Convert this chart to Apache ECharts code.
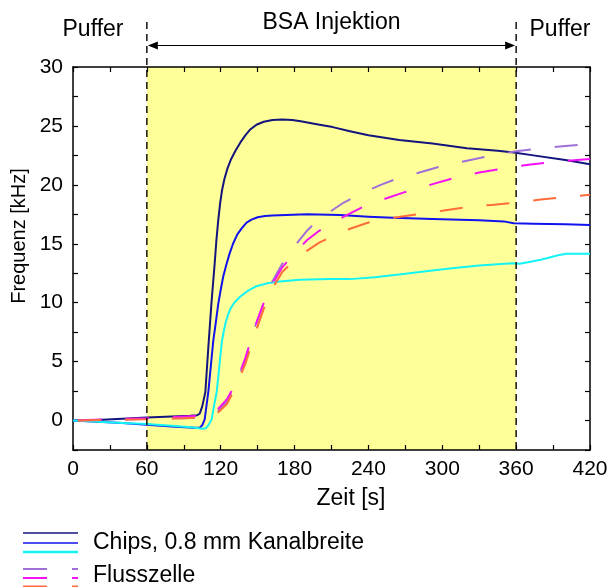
<!DOCTYPE html>
<html>
<head>
<meta charset="utf-8">
<script src="https://cdn.jsdelivr.net/npm/echarts@6/dist/echarts.min.js"></script>
<style>
  html, body { margin: 0; padding: 0; background: #fff; }
  #chart { width: 613px; height: 587px; }
</style>
</head>
<body>
<div id="chart"></div>
<script>
// Labelled ticks on the time axis (s) and the frequency axis (kHz)
const timeTicks = [0, 60, 120, 180, 240, 300, 360, 420];
const freqTicks = [0, 5, 10, 15, 20, 25, 30];

// Injection window (s)
const injectionStart = 60;
const injectionEnd = 360;

// Chips, 0.8 mm channel width — [time s, frequency kHz]
const chipNavy = [[0,0],[20,0.05],[40,0.15],[60,0.25],[80,0.35],[95,0.4],[101,0.45],[103,0.6],[105,1.2],[107.5,2.4],[110,6.3],[112.5,10],[115,13.2],[116.5,15.3],[118,17.0],[119.5,18.4],[121,19.5],[123,20.5],[125.5,21.4],[128.5,22.2],[132,22.9],[136,23.6],[140,24.2],[144,24.7],[149,25.1],[155,25.35],[162,25.5],[170,25.55],[178,25.5],[185,25.4],[198,25.15],[211,24.9],[225,24.55],[240,24.2],[265,23.8],[292,23.5],[320,23.1],[345,22.9],[358,22.75],[374,22.5],[400,22.1],[420,21.75]];
const chipBlue = [[0,0],[20,-0.1],[40,-0.2],[60,-0.35],[80,-0.5],[98,-0.62],[103,-0.6],[105,-0.4],[107,0.1],[110,2.5],[112.5,5.2],[114,6.8],[116,8.3],[118,9.9],[120,11.1],[122,12.2],[124.5,13.2],[127,14.1],[130,15.0],[133.5,15.8],[137,16.3],[141,16.8],[145,17.05],[150,17.25],[156,17.35],[162,17.4],[190,17.5],[217,17.45],[240,17.3],[260,17.2],[292,17.1],[330,17.0],[350,16.9],[358,16.75],[374,16.7],[400,16.65],[420,16.6]];
const chipCyan = [[0,0],[20,-0.1],[40,-0.2],[60,-0.3],[80,-0.45],[98,-0.6],[105,-0.7],[108,-0.65],[110,-0.4],[112.6,0.1],[114.5,1.2],[116.7,2.4],[118.5,4.2],[120.8,6.6],[122.5,7.6],[124,8.3],[126,9.0],[128,9.5],[131,10],[135.7,10.5],[142,11],[149,11.4],[158,11.65],[168,11.8],[184,11.95],[209,12.0],[225,12.0],[245,12.15],[265,12.4],[285,12.65],[306,12.9],[330,13.15],[357,13.35],[363,13.3],[380,13.65],[395,14.05],[401,14.15],[420,14.15]];

// Flow cell — [time s, frequency kHz]
const cellPurple = [[0,0],[30,0.05],[60,0.15],[90,0.2],[110,0.3],[118,0.8],[125,1.6],[132,3],[140,5.2],[148,8],[155,10],[162,11.8],[170,13.3],[180,14.8],[190,16.1],[200,17.1],[210,17.8],[220,18.5],[235,19.3],[250,20.0],[265,20.6],[280,21.0],[300,21.6],[320,22.05],[340,22.5],[360,22.85],[380,23.1],[400,23.3],[420,23.45]];
const cellMagenta = [[0,0],[30,0.1],[60,0.2],[90,0.35],[110,0.4],[118,1.0],[125,1.8],[132,3.1],[140,5.3],[148,8],[155,10],[162,11.6],[170,13],[180,14.2],[190,15.3],[200,16.1],[210,16.7],[220,17.3],[235,18.1],[250,18.7],[270,19.4],[290,20.0],[310,20.6],[330,21.05],[350,21.4],[370,21.7],[390,21.95],[420,22.2]];
const cellOrange = [[0,0],[30,0.05],[60,0.1],[90,0.2],[110,0.3],[118,0.7],[125,1.4],[132,2.8],[140,4.8],[148,7.4],[155,9.5],[162,11.2],[170,12.6],[180,13.6],[190,14.4],[200,15.1],[210,15.6],[220,16.1],[240,16.8],[260,17.2],[280,17.5],[300,17.8],[320,18.1],[340,18.3],[360,18.5],[380,18.75],[400,18.95],[420,19.15]];

const FONT = '"Liberation Sans", Arial, sans-serif';
const COLORS = {
  navy: '#14147e', blue: '#1212ee', cyan: '#14f4f4',
  purple: '#a070d8', magenta: '#f412f4', orange: '#ff6c3c',
  zone: '#ffff99'
};
const DASH = [23, 24];

const chart = echarts.init(document.getElementById('chart'), null, { renderer: 'canvas' });

function frameAxis(extra) {
  return Object.assign({
    type: 'value',
    z: 3,
    axisLine: { onZero: false, lineStyle: { color: '#000', width: 1.5 } },
    axisTick: { inside: true, length: 5, lineStyle: { color: '#000', width: 1.2 } },
    splitLine: { show: false }
  }, extra);
}

const tickLabel = { fontSize: 21, color: '#000', fontFamily: FONT };

function solid(name, data, color) {
  return {
    name, type: 'line', data, symbol: 'none', z: 4,
    lineStyle: { color, width: 2, join: 'round' }
  };
}
function dashed(name, data, color) {
  return {
    name, type: 'line', data, symbol: 'none', z: 5,
    lineStyle: { color, width: 2, type: DASH, dashOffset: 0 }
  };
}

chart.setOption({
  animation: false,
  grid: { left: 73, right: 23, top: 67, bottom: 137 },
  xAxis: [
    frameAxis({
      min: 0, max: 420, interval: 30, position: 'bottom',
      axisLabel: Object.assign({ margin: 9, formatter: v => timeTicks.includes(v) ? String(v) : '' }, tickLabel)
    }),
    frameAxis({ min: 0, max: 420, interval: 30, position: 'top', axisLabel: { show: false } })
  ],
  yAxis: [
    frameAxis({
      min: -2.5, max: 30, interval: 2.5, position: 'left',
      axisLabel: Object.assign({ margin: 10, formatter: v => freqTicks.includes(v) ? String(v) : '' }, tickLabel)
    }),
    frameAxis({ min: -2.5, max: 30, interval: 2.5, position: 'right', axisLabel: { show: false } })
  ],
  series: [
    {
      name: 'Injektion', type: 'line', data: [], z: 1, silent: true,
      markArea: {
        silent: true,
        itemStyle: { color: COLORS.zone },
        data: [[{ xAxis: injectionStart }, { xAxis: injectionEnd }]]
      }
    },
    solid('Chip 1', chipNavy, COLORS.navy),
    solid('Chip 2', chipBlue, COLORS.blue),
    solid('Chip 3', chipCyan, COLORS.cyan),
    dashed('Flusszelle 1', cellPurple, COLORS.purple),
    dashed('Flusszelle 2', cellMagenta, COLORS.magenta),
    dashed('Flusszelle 3', cellOrange, COLORS.orange)
  ]
});

// Pixel helpers based on the chart's own scales
const toX = t => chart.convertToPixel({ xAxisIndex: 0 }, t);
const toY = v => chart.convertToPixel({ yAxisIndex: 0 }, v);

// Phase the dash pattern so a dash begins at a chosen time on each flow-cell curve
function arcLengthAt(data, tAnchor) {
  let s = 0;
  let prev = [toX(data[0][0]), toY(data[0][1])];
  for (let i = 1; i < data.length; i++) {
    const p = [toX(data[i][0]), toY(data[i][1])];
    const seg = Math.hypot(p[0] - prev[0], p[1] - prev[1]);
    if (data[i][0] >= tAnchor) {
      const f = (tAnchor - data[i - 1][0]) / (data[i][0] - data[i - 1][0]);
      return s + f * seg;
    }
    s += seg;
    prev = p;
  }
  return s;
}
const period = DASH[0] + DASH[1];
const phase = (data, t) => (period - (arcLengthAt(data, t) % period)) % period;

const xa = toX(injectionStart);
const xb = toX(injectionEnd);
const yBottom = toY(-2.5);
const arrowY = 45.5;
const head = 10, halfW = 4;

const txt = (x, y, text, align, size) => ({
  type: 'text', x, y, z: 20,
  style: { text, fill: '#000', font: `${size || 23}px ${FONT}`, align: align || 'center', verticalAlign: 'middle' }
});
const seg = (x1, y1, x2, y2, stroke, w, dash) => ({
  type: 'line', z: 20, shape: { x1, y1, x2, y2 },
  style: { stroke, lineWidth: w, lineDash: dash || null }
});

chart.setOption({
  series: [
    {}, {}, {}, {},
    { lineStyle: { dashOffset: phase(cellPurple, 243) } },
    { lineStyle: { dashOffset: phase(cellMagenta, 253) } },
    { lineStyle: { dashOffset: phase(cellOrange, 298) } }
  ],
  graphic: [
    // injection boundaries
    seg(xa, 22, xa, yBottom, '#000', 1.4, [7, 5]),
    seg(xb, 22, xb, yBottom, '#000', 1.4, [7, 5]),
    // double arrow
    seg(xa + head, arrowY, xb - head, arrowY, '#000', 1.2),
    { type: 'polygon', z: 20, shape: { points: [[xa + 1, arrowY], [xa + head + 1, arrowY - halfW], [xa + head + 1, arrowY + halfW]] }, style: { fill: '#000' } },
    { type: 'polygon', z: 20, shape: { points: [[xb - 1, arrowY], [xb - head - 1, arrowY - halfW], [xb - head - 1, arrowY + halfW]] }, style: { fill: '#000' } },
    txt((xa + xb) / 2, 23, 'BSA Injektion'),
    txt(93, 30, 'Puffer'),
    txt(560, 30, 'Puffer'),
    // axis titles
    txt(351, 499, 'Zeit [s]'),
    {
      type: 'text', x: 19, y: 236, rotation: Math.PI / 2, z: 20,
      style: { text: 'Frequenz [kHz]', fill: '#000', font: `20px ${FONT}`, align: 'center', verticalAlign: 'middle' }
    },
    // legend
    seg(23, 533, 78, 533, COLORS.navy, 1.6),
    seg(23, 543, 78, 543, COLORS.blue, 1.6),
    seg(23, 552, 78, 552, COLORS.cyan, 2.6),
    txt(93, 543, 'Chips, 0.8 mm Kanalbreite', 'left'),
    seg(23, 569, 47, 569, COLORS.purple, 2),
    seg(72, 569, 78, 569, COLORS.purple, 2),
    seg(23, 578, 47, 578, COLORS.magenta, 2),
    seg(72, 578, 78, 578, COLORS.magenta, 2),
    seg(23, 586.5, 47, 586.5, COLORS.orange, 2),
    seg(72, 586.5, 78, 586.5, COLORS.orange, 2),
    txt(93, 576, 'Flusszelle', 'left')
  ]
});
</script>
</body>
</html>
